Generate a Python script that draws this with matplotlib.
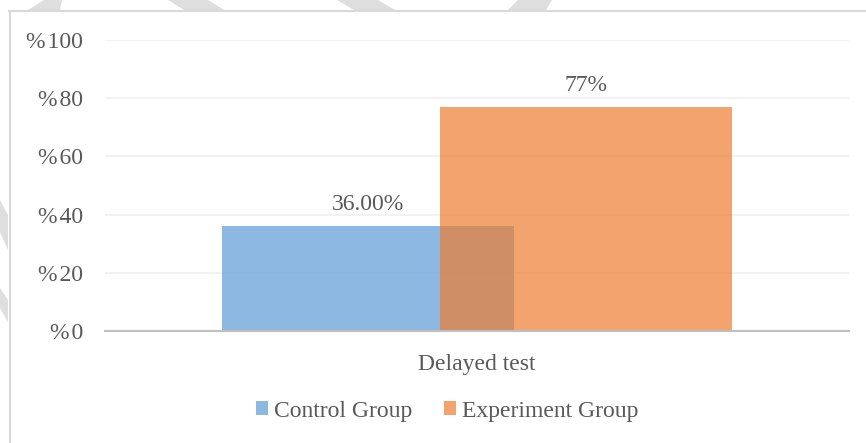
import matplotlib
matplotlib.use("Agg")
import matplotlib.pyplot as plt
from matplotlib.patches import Patch, Polygon
from matplotlib.lines import Line2D

categories = ["Delayed test"]
series_names = ["Control Group", "Experiment Group"]
control_values = [36.0]
experiment_values = [77.0]
control_labels = ["36.00%"]
experiment_labels = ["77%"]
y_ticks = [0, 20, 40, 60, 80, 100]

plt.rcParams['font.family'] = ['Liberation Serif', 'DejaVu Serif']
W, H = 866, 443
fig = plt.figure(figsize=(W / 100, H / 100), dpi=100)
fig.patch.set_facecolor("white")

def fx(px):
    return px / W

def fy(py):
    return 1 - py / H

ax = fig.add_axes([fx(105), fy(331), fx(849) - fx(105), fy(40) - fy(331)])

blue = "#5B9BD5"
orange = "#ED7D31"
alpha = 0.7
width = 0.3925
off = 0.1465
x = list(range(len(categories)))

b1 = ax.bar([v - off for v in x], control_values, width, color=blue, alpha=alpha, zorder=2)
b2 = ax.bar([v + off for v in x], experiment_values, width, color=orange, alpha=alpha, zorder=3)

txtcol = "#595959"
fs = 17
ax.bar_label(b1, labels=control_labels, padding=8, fontsize=fs, color=txtcol)
ax.bar_label(b2, labels=experiment_labels, padding=8, fontsize=fs, color=txtcol)

ax.set_xlim(-0.5, 0.5)
ax.set_ylim(0, 100)
ax.set_yticks(y_ticks)
ax.set_yticklabels([f"%\u200a{t}" for t in y_ticks])
ax.set_xticks(x)
ax.set_xticklabels(categories)
ax.tick_params(axis="both", length=0, labelsize=fs, colors=txtcol)
ax.tick_params(axis="y", pad=16)
ax.tick_params(axis="x", pad=16.5)
ax.yaxis.grid(True, color="#EFEFEF", linewidth=1.1, zorder=0)
ax.set_axisbelow(True)
for s in ["top", "right", "left"]:
    ax.spines[s].set_visible(False)
ax.spines["bottom"].set_color("#BFBFBF")
ax.spines["bottom"].set_linewidth(1.5)
ax.spines["bottom"].set_zorder(4)
ax.set_facecolor("none")

handles = [Patch(facecolor=blue, alpha=alpha, edgecolor="none"),
           Patch(facecolor=orange, alpha=alpha, edgecolor="none")]
fig.legend(handles, series_names, loc="center", bbox_to_anchor=(fx(447), fy(411)),
           ncol=2, frameon=False, fontsize=fs, labelcolor=txtcol,
           handlelength=0.5, handleheight=0.5, handletextpad=0.25,
           columnspacing=1.35, borderpad=0)

# chart border
fig.add_artist(Line2D([fx(9.5), fx(9.5)], [fy(11), fy(450)], color="#D9D9D9", lw=1.5))
fig.add_artist(Line2D([fx(9), fx(870)], [fy(11), fy(11)], color="#D9D9D9", lw=1.5))

# faint watermark strokes
wm = "#DEDEDE"
shapes = [
    [(44, 0), (62, 0), (60, 10), (28, 10)],
    [(168, 0), (208, 0), (224, 10), (184, 10)],
    [(337, 0), (378, 0), (395, 10), (354, 10)],
    [(518, 0), (552, 0), (546, 10), (508, 10)],
    [(0, 200), (8, 215), (8, 250), (0, 232)],
    [(0, 288), (8, 300), (8, 322), (0, 308)],
]
for pts in shapes:
    fig.add_artist(Polygon([(fx(a), fy(b)) for a, b in pts], closed=True,
                           facecolor=wm, edgecolor="none", zorder=0))

fig.savefig("out.png", dpi=100, facecolor="white")
